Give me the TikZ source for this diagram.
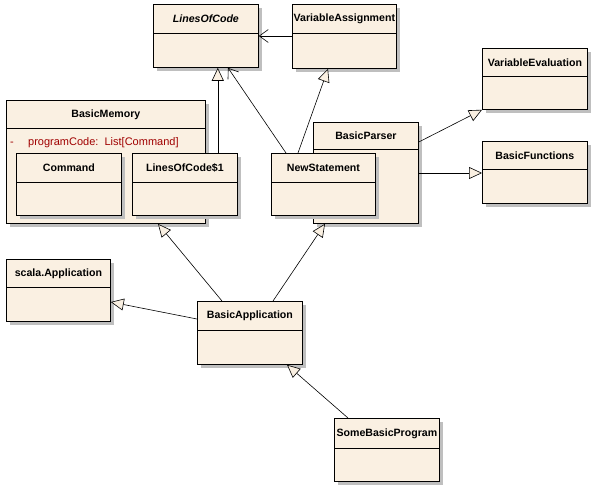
\documentclass[tikz,border=0pt]{standalone}
\usepackage{fontspec}
\setmainfont{Liberation Sans}
\usetikzlibrary{arrows.meta,shadows}
\definecolor{classfill}{RGB}{250,240,226}
\definecolor{attrred}{RGB}{160,0,0}
\begin{document}
\begin{tikzpicture}[x=1pt,y=-1pt,
  classstyle/.style={draw,line width=0.8pt,fill=classfill,anchor=north west,minimum width=105pt,minimum height=62pt,inner sep=0pt,
    drop shadow={shadow xshift=4pt,shadow yshift=-4pt,fill=black!25,opacity=1}},
  namestyle/.style={draw,line width=0.8pt,anchor=north,minimum width=105pt,minimum height=29pt,inner sep=0pt,font=\fontsize{10.6}{12}\selectfont\bfseries},
  abstractname/.style={namestyle,font=\fontsize{10.6}{12}\selectfont\bfseries\itshape},
  attrstyle/.style={anchor=base west,inner sep=0pt,text=attrred,font=\fontsize{11}{12}\selectfont},
  extends/.style={-{Triangle[length=13pt,width=12pt,fill=classfill]},line width=0.6pt},
  uses/.style={-{Straight Barb[length=9pt,width=13pt]},line width=0.6pt}]
\useasboundingbox (0,0) rectangle (595,490);
\node[classstyle,minimum height=63pt] (loc) at (153,4) {};
\node[abstractname] (locname) at (loc.north) {LinesOfCode};
\node[classstyle,minimum width=104pt,minimum height=64pt] (vass) at (292,4) {};
\node[namestyle,minimum width=104pt] (vassname) at (vass.north) {VariableAssignment};
\node[classstyle,minimum height=61pt] (veval) at (482,48) {};
\node[namestyle,minimum height=28pt] (vevalname) at (veval.north) {VariableEvaluation};
\node[classstyle,minimum width=199pt,minimum height=123pt] (bmem) at (6,100) {};
\node[namestyle,minimum width=199pt,minimum height=28pt] (bmemname) at (bmem.north) {BasicMemory};
\node[attrstyle] (bmemdash) at (10,145) {-};
\node[attrstyle] (bmemattr) at (28,145) {programCode:\ \ List[Command]};
\node[classstyle] (cmd) at (16,153) {};
\node[namestyle] (cmdname) at (cmd.north) {Command};
\node[classstyle] (loc1) at (132,153) {};
\node[namestyle] (loc1name) at (loc1.north) {LinesOfCode\$1};
\node[classstyle,minimum height=101pt] (bparser) at (313,122) {};
\node[namestyle,minimum height=27pt] (bparsername) at (bparser.north) {BasicParser};
\node[classstyle,minimum width=104pt] (newst) at (271,153) {};
\node[namestyle,minimum width=104pt] (newstname) at (newst.north) {NewStatement};
\node[classstyle] (bfun) at (482,141) {};
\node[namestyle,minimum height=28pt] (bfunname) at (bfun.north) {BasicFunctions};
\node[classstyle,minimum width=104pt] (sapp) at (6,259) {};
\node[namestyle,minimum width=104pt,minimum height=28pt] (sappname) at (sapp.north) {scala.Application};
\node[classstyle,minimum height=63pt] (bapp) at (197,301) {};
\node[namestyle] (bappname) at (bapp.north) {BasicApplication};
\node[classstyle,minimum height=63pt] (sbp) at (334,418) {};
\node[namestyle,minimum height=30pt] (sbpname) at (sbp.north) {SomeBasicProgram};
% connectors
\draw[uses] ([yshift=-32pt]vass.north west) -- ([yshift=-32pt]loc.north east);
\draw[extends] ([xshift=-20pt]loc1.north east) -- ([xshift=-20pt]loc1.north east |- loc.south);
\draw[uses] ([xshift=15pt]newst.north west) -- ([xshift=75pt]loc.south west);
\draw[extends] ([xshift=27pt]newst.north west) -- ([xshift=36pt]vass.south west);
\draw[extends] ([yshift=-20pt]bparser.north east) -- (veval.south west);
\draw[extends] ([yshift=-51pt]bparser.north east) -- ([yshift=-32pt]bfun.north west);
\draw[extends] ([xshift=25pt]bapp.north west) -- ([xshift=152pt]bmem.south west);
\draw[extends] ([xshift=76pt]bapp.north west) -- ([xshift=12pt]bparser.south west);
\draw[extends] ([yshift=-18pt]bapp.north west) -- ([yshift=-43pt]sapp.north east);
\draw[extends] ([xshift=14pt]sbp.north west) -- ([xshift=90pt]bapp.south west);
\end{tikzpicture}
\end{document}
